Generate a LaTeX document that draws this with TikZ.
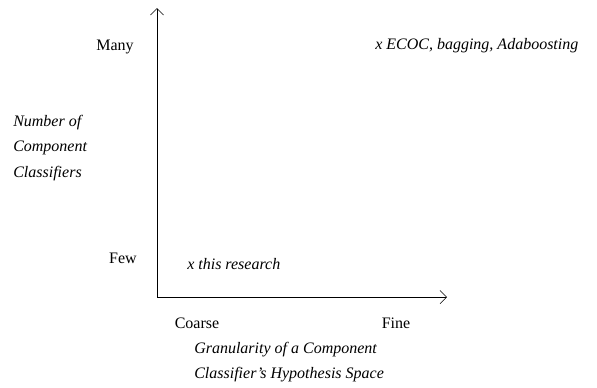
\documentclass[tikz,border=0pt]{standalone}
\usepackage{fontspec}
\setmainfont{Liberation Serif}
\usetikzlibrary{arrows.meta, positioning}

\begin{document}
\begin{tikzpicture}[x=0.75pt, y=-0.75pt,
    lbl/.style={font=\fontsize{12}{19}\selectfont, inner sep=0pt},
    ilbl/.style={lbl, font=\fontsize{12}{19}\selectfont\itshape, align=left}]
    \useasboundingbox (0,0) rectangle (597,387);

    % Axes
    \coordinate (origin) at (157,297);
    \coordinate (ytip) at (157,8);
    \coordinate (xtip) at (447,297);
    \draw[-{Straight Barb[length=5pt]}] (origin) -- (ytip);
    \draw[-{Straight Barb[length=5pt]}] (origin) -- (xtip);

    % Vertical axis labels
    \node[lbl, anchor=base] (many) at (115,50) {Many};
    \node[lbl, anchor=base] (few) at (123,263) {Few};
    \node[ilbl, anchor=north west] (ylabel) at (13,115) {Number of\\Component\\Classifiers};

    % Horizontal axis labels
    \node[lbl, anchor=base] (coarse) at (197,328) {Coarse};
    \node[lbl, anchor=base] (fine) at (396,328) {Fine};
    \node[ilbl, anchor=north west] (xlabel) at (194,342) {Granularity of a Component\\Classifier's Hypothesis Space};

    % Points
    \node[ilbl, anchor=base west] (ours) at (187,269) {x this research};
    \node[ilbl, anchor=base west] (ensembles) at (375,49) {x ECOC, bagging, Adaboosting};
\end{tikzpicture}
\end{document}
